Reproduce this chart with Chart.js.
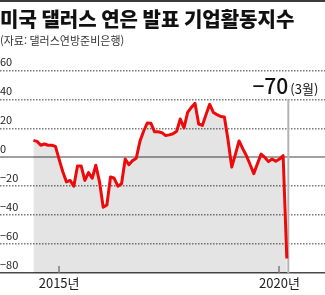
<!DOCTYPE html>
<html lang="ko">
<head>
<meta charset="utf-8">
<script src="https://cdn.jsdelivr.net/npm/chart.js@4"></script>
<style>
  html, body { margin: 0; padding: 0; background: #fff; }
  #wrap { width: 325px; height: 295px; }
</style>
</head>
<body>
<div id="wrap"><canvas id="chart"></canvas></div>
<script>
// Dallas Fed business activity index, monthly, 2014.06 - 2020.03
const months = [
  "2014.06", "2014.07", "2014.08", "2014.09", "2014.10", "2014.11", "2014.12",
  "2015.01", "2015.02", "2015.03", "2015.04", "2015.05", "2015.06", "2015.07", "2015.08", "2015.09", "2015.10", "2015.11", "2015.12",
  "2016.01", "2016.02", "2016.03", "2016.04", "2016.05", "2016.06", "2016.07", "2016.08", "2016.09", "2016.10", "2016.11", "2016.12",
  "2017.01", "2017.02", "2017.03", "2017.04", "2017.05", "2017.06", "2017.07", "2017.08", "2017.09", "2017.10", "2017.11", "2017.12",
  "2018.01", "2018.02", "2018.03", "2018.04", "2018.05", "2018.06", "2018.07", "2018.08", "2018.09", "2018.10", "2018.11", "2018.12",
  "2019.01", "2019.02", "2019.03", "2019.04", "2019.05", "2019.06", "2019.07", "2019.08", "2019.09", "2019.10", "2019.11", "2019.12",
  "2020.01", "2020.02", "2020.03"
];
const activityIndex = [
  11.7, 11, 8.3, 9.2, 8.3, 8.3, 7.5,
  -1.5, -10, -17, -16, -20, -6, -6, -16, -10.6, -14.5, -5.5, -17,
  -34.5, -33, -13.6, -14.5, -20, -18.3, -1.2, -5.2, -2.3, -0.7, 11, 18,
  23.7, 23.5, 17.6, 17.6, 17, 15, 15.5, 16.3, 18, 26.5, 20.3, 31,
  34.5, 37.3, 23, 22, 29.5, 36.6, 31, 29.5, 28.2, 27.8, 12, -6.8,
  2, 11.3, 6, 1.1, -5, -11.3, -4.5, 2.2, 0, -3, -1.2, -2.7,
  -1.2, 1.1, -70
];
const tickMonths = ["2015.01", "2020.01"];
const tickLabels = ["2015년", "2020년"];
const noteSuffix = "(3월)";

const FONT = "'Noto Sans CJK KR', 'Noto Sans', sans-serif";
const fmt = v => (v < 0 ? "\u2212" + Math.abs(v) : String(v));

// grid: solid zero line, dark base line, dotted everything else
const gridStyle = v => {
  if (v === 0) return { color: "#a0a0a0", width: 2, dash: [] };
  if (v === -80) return { color: "#4a4a4a", width: 1.5, dash: [] };
  return { color: "#7a7a7a", width: 1.5, dash: [1.5, 1.5] };
};
const gs = c => gridStyle(c.tick ? c.tick.value : 0);

// top rule, small x ticks, marker line and the -70 note
const extras = {
  id: "extras",
  beforeDraw(chart) {
    const ctx = chart.ctx;
    ctx.save();
    ctx.fillStyle = "#3a3a3a";
    ctx.fillRect(0, 0, chart.width, 2);
    ctx.restore();
  },
  beforeDatasetsDraw(chart) {
    const { ctx, chartArea, scales } = chart;
    const x = scales.x, y = scales.y;
    ctx.save();
    ctx.strokeStyle = "#8a8a8a";
    ctx.lineWidth = 1.5;
    x.ticks.forEach(t => {
      const px = Math.round(x.getPixelForValue(t.value));
      ctx.beginPath();
      ctx.moveTo(px, chartArea.bottom - 7);
      ctx.lineTo(px, chartArea.bottom);
      ctx.stroke();
    });
    const last = activityIndex.length - 1;
    const lx = x.getPixelForValue(last) + 1.5;
    ctx.strokeStyle = "#b4b4b4";
    ctx.lineWidth = 2;
    ctx.beginPath();
    ctx.moveTo(lx, y.getPixelForValue(40));
    ctx.lineTo(lx, chartArea.bottom);
    ctx.stroke();
    ctx.restore();
  },
  afterDatasetsDraw(chart) {
    const { ctx, scales } = chart;
    const last = activityIndex.length - 1;
    const lx = scales.x.getPixelForValue(last) + 1.5;
    const ty = scales.y.getPixelForValue(40) - 5;
    ctx.save();
    ctx.fillStyle = "#111";
    ctx.textBaseline = "alphabetic";
    ctx.font = "500 21px " + FONT;
    ctx.textAlign = "right";
    ctx.fillText(fmt(activityIndex[last]), lx, ty);
    ctx.font = "13px " + FONT;
    ctx.textAlign = "left";
    ctx.fillText(noteSuffix, lx + 2, ty);
    ctx.restore();
  }
};

new Chart(document.getElementById("chart"), {
  type: "line",
  data: {
    datasets: [{
      data: activityIndex.map((v, i) => ({ x: i, y: v })),
      borderColor: "#ee0a0a",
      borderWidth: 3,
      borderJoinStyle: "round",
      backgroundColor: "rgba(0,0,0,0.105)",
      fill: "start",
      pointRadius: 0,
      tension: 0
    }]
  },
  options: {
    responsive: true,
    maintainAspectRatio: false,
    animation: false,
    devicePixelRatio: 1,
    layout: { padding: { left: 0, right: 0, top: 0, bottom: 1 } },
    plugins: {
      legend: { display: false },
      tooltip: { enabled: false },
      title: {
        display: true,
        text: "미국 댈러스 연은 발표 기업활동지수",
        align: "start",
        color: "#111",
        font: { family: FONT, size: 20, weight: "900" },
        padding: { top: 7, bottom: 3.7 }
      },
      subtitle: {
        display: true,
        text: "(자료: 댈러스연방준비은행)",
        align: "start",
        color: "#333",
        font: { family: FONT, size: 11 },
        padding: { top: 0, bottom: 22.6 }
      }
    },
    scales: {
      x: {
        type: "linear",
        min: -9.1,
        max: 79.4,
        afterBuildTicks: scale => {
          scale.ticks = tickMonths.map(m => ({ value: months.indexOf(m) }));
        },
        ticks: {
          padding: 4,
          color: "#222",
          font: { family: FONT, size: 13, lineHeight: 1 },
          maxRotation: 0,
          autoSkip: false,
          callback: v => tickLabels[tickMonths.indexOf(months[v])]
        },
        grid: { display: false, drawTicks: false },
        border: { display: false }
      },
      y: {
        min: -80,
        max: 60,
        ticks: {
          stepSize: 20,
          mirror: true,
          padding: 0,
          labelOffset: -8.5,
          color: "#222",
          font: { family: FONT, size: 11 },
          callback: v => fmt(v)
        },
        grid: {
          drawTicks: false,
          color: c => gs(c).color,
          lineWidth: c => gs(c).width
        },
        border: { display: false, dash: c => gs(c).dash }
      }
    }
  },
  plugins: [extras]
});
</script>
</body>
</html>
